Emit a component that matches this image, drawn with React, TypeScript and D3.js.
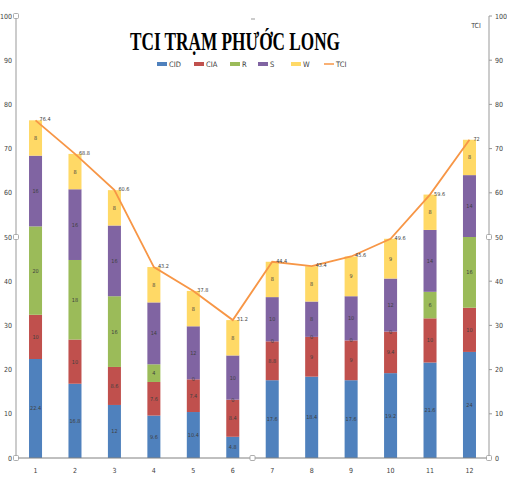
import * as d3 from 'd3';

const months = ['1', '2', '3', '4', '5', '6', '7', '8', '9', '10', '11', '12'];
const seriesNames = ['CID', 'CIA', 'R', 'S', 'W'];
const cid = [22.4, 16.8, 12, 9.6, 10.4, 4.8, 17.6, 18.4, 17.6, 19.2, 21.6, 24];
const cia = [10, 10, 8.6, 7.6, 7.4, 8.4, 8.8, 9, 9, 9.4, 10, 10];
const r = [20, 18, 16, 4, 0, 0, 0, 0, 0, 0, 6, 16];
const s = [16, 16, 16, 14, 12, 10, 10, 8, 10, 12, 14, 14];
const w = [8, 8, 8, 8, 8, 8, 8, 8, 9, 9, 8, 8];
const tci = [76.4, 68.8, 60.6, 43.2, 37.8, 31.2, 44.4, 43.4, 45.6, 49.6, 59.6, 72];
const yTicks = [0, 10, 20, 30, 40, 50, 60, 70, 80, 90, 100];

const colors = ['#4F81BD', '#C0504D', '#9BBB59', '#8064A2', '#FFD966'];
const lineColor = '#F79646';
const narrow = '"Liberation Sans Narrow", "DejaVu Sans Condensed", "Liberation Sans", sans-serif';

const W = 507;
const H = 477;
const left = 16;
const right = 489;
const top = 16;
const bottom = 458;

export default function App() {
  const x = d3.scaleBand<string>().domain(months).range([left, right]).paddingInner(0.67).paddingOuter(0.33);
  const y = d3.scaleLinear().domain([0, 100]).range([bottom, top]);

  const rows = months.map((m, i) => ({ month: m, CID: cid[i], CIA: cia[i], R: r[i], S: s[i], W: w[i] }));
  const stacked = d3.stack<any>().keys(seriesNames)(rows);

  const line = d3
    .line<number>()
    .x((_, i) => (x(months[i]) || 0) + x.bandwidth() / 2)
    .y((d) => y(d));

  const handle = (cx: number, cy: number, key: string) => (
    <rect key={key} x={cx - 2.5} y={cy - 2.5} width={5} height={5} fill="#fff" stroke="#999" strokeWidth={0.8} rx={1} />
  );

  // legend layout
  const legendX = [157, 194, 230, 258, 291, 324];
  const legendY = 64;

  return (
    <svg width={W} height={H} style={{ position: 'absolute', left: 0, top: 0, background: '#fff' }}>
      {/* title */}
      <text
        x={130}
        y={50}
        textLength={210}
        lengthAdjust="spacingAndGlyphs"
        fontFamily='"Liberation Serif", "Times New Roman", serif'
        fontWeight="bold"
        fontSize={25}
        fill="#000"
      >
        TCI TRẠM PHƯỚC LONG
      </text>

      {/* legend */}
      {seriesNames.map((name, i) => (
        <g key={name}>
          <rect x={legendX[i]} y={legendY - 2} width={10} height={4} fill={colors[i]} />
          <text x={legendX[i] + 12} y={legendY + 2.5} fontFamily={narrow} fontSize={7.5} fill="#404040">
            {name}
          </text>
        </g>
      ))}
      <line x1={legendX[5]} x2={legendX[5] + 10} y1={legendY} y2={legendY} stroke={lineColor} strokeWidth={1.5} />
      <text x={legendX[5] + 12} y={legendY + 2.5} fontFamily={narrow} fontSize={7.5} fill="#404040">
        TCI
      </text>

      {/* left axis */}
      <line x1={left} x2={left} y1={top} y2={bottom} stroke="#999" strokeWidth={1} />
      {yTicks.map((t) => (
        <text key={'l' + t} x={12} y={y(t) + 2.5} textAnchor="end" fontFamily={narrow} fontSize={7} fill="#404040">
          {t}
        </text>
      ))}

      {/* right axis */}
      <line x1={right} x2={right} y1={top} y2={bottom} stroke="#999" strokeWidth={1} />
      {yTicks.map((t) => (
        <g key={'r' + t}>
          <line x1={right} x2={right + 3} y1={y(t)} y2={y(t)} stroke="#999" strokeWidth={1} />
          <text x={right + 6} y={y(t) + 2.5} fontFamily={narrow} fontSize={7} fill="#404040">
            {t}
          </text>
        </g>
      ))}
      <text x={476} y={28} textAnchor="middle" fontFamily={narrow} fontSize={7} fill="#404040">
        TCI
      </text>

      {/* bars */}
      {stacked.map((layer, li) => (
        <g key={layer.key}>
          {layer.map((d, i) => (
            <rect
              key={i}
              x={x(months[i])}
              y={y(d[1])}
              width={x.bandwidth()}
              height={y(d[0]) - y(d[1])}
              fill={colors[li]}
            />
          ))}
        </g>
      ))}

      {/* segment labels */}
      {stacked.map((layer) =>
        layer.map((d, i) => (
          <text
            key={layer.key + i}
            x={(x(months[i]) || 0) + x.bandwidth() / 2}
            y={y((d[0] + d[1]) / 2) + 2}
            textAnchor="middle"
            fontFamily={narrow}
            fontSize={5.5}
            fill="#404040"
          >
            {d[1] - d[0] === 0 ? '0' : +(d[1] - d[0]).toFixed(1)}
          </text>
        ))
      )}

      {/* zero baseline */}
      <line x1={left} x2={right} y1={bottom} y2={bottom} stroke="#808080" strokeWidth={1} />

      {/* x labels */}
      {months.map((m) => (
        <text
          key={'x' + m}
          x={(x(m) || 0) + x.bandwidth() / 2}
          y={473}
          textAnchor="middle"
          fontFamily={narrow}
          fontSize={7}
          fill="#404040"
        >
          {m}
        </text>
      ))}

      {/* TCI line */}
      <path d={line(tci) || ''} fill="none" stroke={lineColor} strokeWidth={1.8} />
      {tci.map((v, i) => (
        <text
          key={'t' + i}
          x={(x(months[i]) || 0) + x.bandwidth() / 2 + 4}
          y={y(v) + 1}
          fontFamily={narrow}
          fontSize={5.5}
          fill="#404040"
        >
          {v}
        </text>
      ))}

      {/* selection handles */}
      {handle(left, top, 'h1')}
      {handle(left, (top + bottom) / 2, 'h2')}
      {handle(left, bottom, 'h3')}
      {handle(right, (top + bottom) / 2, 'h4')}
      {handle(right, bottom, 'h5')}
      {handle((left + right) / 2, bottom, 'h6')}
      <line x1={251} x2={255} y1={19} y2={19} stroke="#999" strokeWidth={1} />
    </svg>
  );
}
